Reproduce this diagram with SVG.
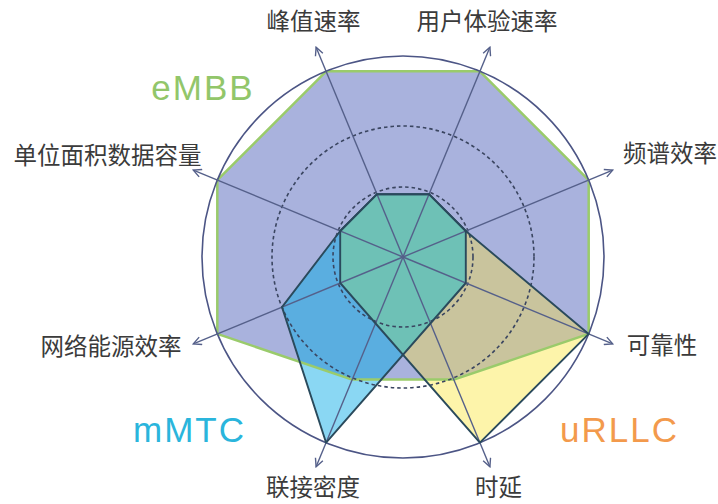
<svg xmlns="http://www.w3.org/2000/svg" width="718" height="504" viewBox="0 0 718 504">
<style>
.lbl{font-family:'Noto Sans CJK SC','Noto Sans',sans-serif;font-size:23.5px;fill:#3b3b3b;text-anchor:middle}
.big{font-family:'Liberation Sans','Noto Sans',sans-serif;font-size:35px;letter-spacing:2px;text-anchor:middle}
.axis{stroke:#55608a;stroke-width:1.4;fill:none}
.dash{stroke:#3a4560;stroke-width:1.6;fill:none;stroke-dasharray:3.5 3}
.outline{stroke:#2a4a5c;stroke-width:1.9;fill:none;stroke-linejoin:round}
</style>
<defs>
<marker id="arr" viewBox="0 0 10 10" refX="9" refY="5" markerWidth="10" markerHeight="10" markerUnits="userSpaceOnUse" orient="auto">
<path d="M1,1 L9,5 L1,9" fill="none" stroke="#55608a" stroke-width="1.4"/>
</marker>
<path id="pE" d="M326.1,71.3 L479.9,71.3 L588.7,180.1 L588.7,333.9 L453.9,379.6 L352.1,379.6 L217.3,333.9 L217.3,180.1 Z"/>
<polygon id="pM" points="377,194.2 429,194.2 465.8,231 465.8,283 326.1,442.7 282,307.1 340.2,231"/>
<polygon id="pU" points="377,194.2 429,194.2 465.8,231 588.7,333.9 479.9,442.7 340.2,283 340.2,231"/>
<clipPath id="cE"><use href="#pE"/></clipPath>
<clipPath id="cM"><use href="#pM"/></clipPath>
</defs>
<rect width="718" height="504" fill="#ffffff"/>
<g id="eMBB-area">
<use href="#pE" fill="#a9b2dd"/>
</g>
<g id="mMTC-area">
<use href="#pM" fill="#8ad7f3"/>
<use href="#pM" fill="#5aaee0" clip-path="url(#cE)"/>
</g>
<g id="uRLLC-area">
<use href="#pU" fill="#fdf4aa"/>
<use href="#pU" fill="#c9c49d" clip-path="url(#cE)"/>
<use href="#pU" fill="#6ec1b6" clip-path="url(#cM)"/>
</g>
<g id="eMBB-outline">
<use href="#pE" fill="none" stroke="#9acb6b" stroke-width="2.5" stroke-linejoin="round"/>
</g>
<g id="grid">
<circle cx="403" cy="257" r="201" fill="none" stroke="#4c5585" stroke-width="1.6"/>
<circle class="dash" cx="403" cy="257" r="131"/>
<circle class="dash" cx="403" cy="257" r="70"/>
</g>
<g id="connectors">
<line class="axis" x1="403" y1="257" x2="316.1" y2="47.3" marker-end="url(#arr)"/>
<line class="axis" x1="403" y1="257" x2="489.9" y2="47.3" marker-end="url(#arr)"/>
<line class="axis" x1="403" y1="257" x2="612.7" y2="170.1" marker-end="url(#arr)"/>
<line class="axis" x1="403" y1="257" x2="612.7" y2="343.9" marker-end="url(#arr)"/>
<line class="axis" x1="403" y1="257" x2="489.9" y2="466.7" marker-end="url(#arr)"/>
<line class="axis" x1="403" y1="257" x2="316.1" y2="466.7" marker-end="url(#arr)"/>
<line class="axis" x1="403" y1="257" x2="193.3" y2="343.9" marker-end="url(#arr)"/>
<line class="axis" x1="403" y1="257" x2="193.3" y2="170.1" marker-end="url(#arr)"/>
</g>
<g id="series-outlines">
<use href="#pM" class="outline"/>
<use href="#pU" class="outline"/>
</g>
<g id="axis-labels">
<text class="lbl" x="313.5" y="30">峰值速率</text>
<text class="lbl" x="487" y="30">用户体验速率</text>
<text class="lbl" x="670" y="162">频谱效率</text>
<text class="lbl" x="662" y="354">可靠性</text>
<text class="lbl" x="498.5" y="496">时延</text>
<text class="lbl" x="313" y="496">联接密度</text>
<text class="lbl" x="111" y="355">网络能源效率</text>
<text class="lbl" x="107.5" y="164">单位面积数据容量</text>
</g>
<g id="scenario-labels">
<text class="big" x="203" y="100" fill="#92c66a">eMBB</text>
<text class="big" x="189.5" y="442" fill="#2ab5dc">mMTC</text>
<text class="big" x="619.5" y="442" fill="#f39a4c">uRLLC</text>
</g>
</svg>
